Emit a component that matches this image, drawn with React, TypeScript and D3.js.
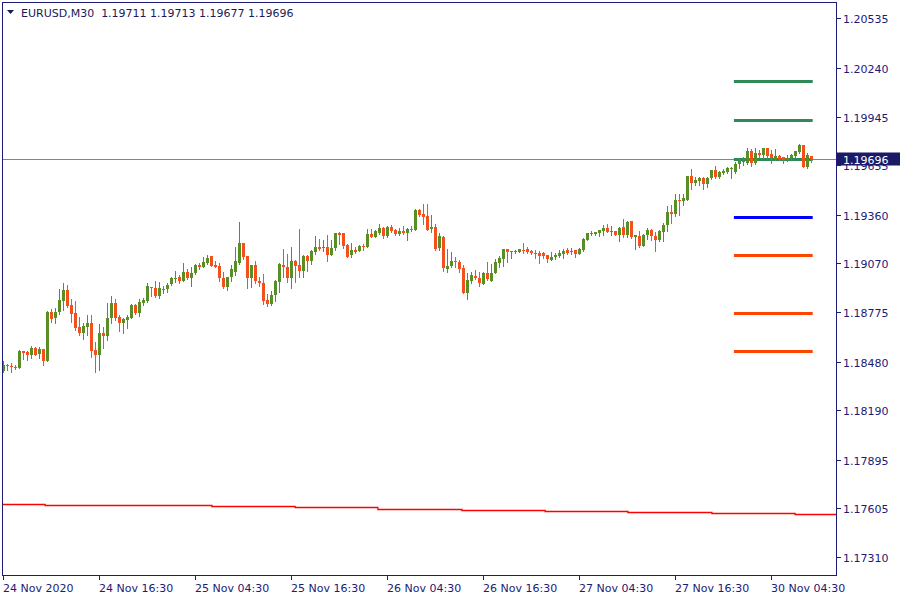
import React from "react";
import * as d3 from "d3";

const symbolTitle = "EURUSD,M30";
const lastQuote = ["1.19711", "1.19713", "1.19677", "1.19696"];
const currentPrice = 1.19696;

const opens = [
  1.18422, 1.18462, 1.18456, 1.18450, 1.18442, 1.18542, 1.18536, 1.18520, 1.18564, 1.18526,
  1.18554, 1.18484, 1.18776, 1.18740, 1.18776, 1.18844, 1.18908, 1.18818, 1.18770, 1.18686,
  1.18652, 1.18688, 1.18710, 1.18548, 1.18520, 1.18650, 1.18634, 1.18740, 1.18830, 1.18746,
  1.18712, 1.18730, 1.18742, 1.18820, 1.18772, 1.18830, 1.18844, 1.18930, 1.18924, 1.18876,
  1.18914, 1.18914, 1.18944, 1.18980, 1.18990, 1.18966, 1.19020, 1.18984, 1.19010, 1.19056,
  1.19046, 1.19070, 1.19110, 1.19056, 1.19052, 1.18984, 1.18930, 1.18986, 1.19020, 1.19070,
  1.19188, 1.19110, 1.18984, 1.19056, 1.18966, 1.18954, 1.18852, 1.18824, 1.18880, 1.18956,
  1.19056, 1.19048, 1.18984, 1.19080, 1.19056, 1.19022, 1.19110, 1.19082, 1.19134, 1.19164,
  1.19160, 1.19168, 1.19118, 1.19160, 1.19248, 1.19248, 1.19176, 1.19116, 1.19146, 1.19142,
  1.19170, 1.19164, 1.19242, 1.19226, 1.19248, 1.19278, 1.19230, 1.19284, 1.19266, 1.19244,
  1.19260, 1.19248, 1.19274, 1.19266, 1.19386, 1.19362, 1.19350, 1.19272, 1.19284, 1.19160,
  1.19224, 1.19034, 1.19050, 1.19084, 1.19078, 1.19038, 1.18890, 1.18962, 1.18996, 1.18984,
  1.18944, 1.19014, 1.18964, 1.19014, 1.19070, 1.19094, 1.19152, 1.19136, 1.19136, 1.19136,
  1.19148, 1.19152, 1.19144, 1.19132, 1.19130, 1.19130, 1.19116, 1.19088, 1.19106, 1.19112,
  1.19124, 1.19146, 1.19136, 1.19146, 1.19126, 1.19148, 1.19210, 1.19246, 1.19246, 1.19250,
  1.19260, 1.19280, 1.19257, 1.19261, 1.19241, 1.19289, 1.19241, 1.19321, 1.19225, 1.19233,
  1.19175, 1.19239, 1.19269, 1.19235, 1.19211, 1.19257, 1.19297, 1.19379, 1.19363, 1.19447,
  1.19441, 1.19449, 1.19589, 1.19549, 1.19561, 1.19581, 1.19543, 1.19577, 1.19625, 1.19585,
  1.19611, 1.19615, 1.19633, 1.19615, 1.19661, 1.19673, 1.19671, 1.19739, 1.19669, 1.19729,
  1.19717, 1.19757, 1.19721, 1.19695, 1.19709, 1.19705, 1.19685, 1.19699, 1.19711, 1.19735,
  1.19775, 1.19645, 1.19711,
];

const highs = [
  1.18482, 1.18468, 1.18474, 1.18458, 1.18552, 1.18542, 1.18546, 1.18576, 1.18570, 1.18566,
  1.18558, 1.18782, 1.18798, 1.18804, 1.18918, 1.18954, 1.18938, 1.18858, 1.18842, 1.18748,
  1.18714, 1.18762, 1.18762, 1.18598, 1.18708, 1.18686, 1.18832, 1.18872, 1.18854, 1.18758,
  1.18744, 1.18758, 1.18826, 1.18826, 1.18854, 1.18862, 1.18950, 1.18930, 1.18966, 1.18960,
  1.18936, 1.18950, 1.18990, 1.19026, 1.18998, 1.19068, 1.19036, 1.19044, 1.19062, 1.19068,
  1.19106, 1.19116, 1.19110, 1.19084, 1.19068, 1.19016, 1.18990, 1.19056, 1.19164, 1.19314,
  1.19188, 1.19110, 1.19056, 1.19080, 1.18990, 1.19008, 1.18886, 1.18906, 1.18970, 1.19068,
  1.19156, 1.19126, 1.19164, 1.19086, 1.19272, 1.19116, 1.19116, 1.19150, 1.19230, 1.19216,
  1.19206, 1.19236, 1.19206, 1.19248, 1.19256, 1.19248, 1.19182, 1.19190, 1.19166, 1.19176,
  1.19186, 1.19272, 1.19272, 1.19266, 1.19302, 1.19284, 1.19290, 1.19296, 1.19274, 1.19278,
  1.19290, 1.19280, 1.19290, 1.19396, 1.19392, 1.19422, 1.19422, 1.19356, 1.19306, 1.19252,
  1.19230, 1.19156, 1.19134, 1.19108, 1.19086, 1.19056, 1.19010, 1.19020, 1.19030, 1.19016,
  1.19016, 1.19076, 1.19062, 1.19092, 1.19110, 1.19152, 1.19152, 1.19142, 1.19150, 1.19152,
  1.19190, 1.19166, 1.19146, 1.19146, 1.19142, 1.19136, 1.19116, 1.19136, 1.19130, 1.19146,
  1.19154, 1.19160, 1.19160, 1.19146, 1.19158, 1.19220, 1.19250, 1.19262, 1.19254, 1.19268,
  1.19298, 1.19304, 1.19295, 1.19265, 1.19289, 1.19335, 1.19325, 1.19325, 1.19241, 1.19265,
  1.19245, 1.19281, 1.19275, 1.19255, 1.19269, 1.19309, 1.19409, 1.19415, 1.19485, 1.19485,
  1.19485, 1.19589, 1.19635, 1.19585, 1.19585, 1.19585, 1.19585, 1.19625, 1.19649, 1.19619,
  1.19635, 1.19645, 1.19645, 1.19675, 1.19691, 1.19705, 1.19761, 1.19751, 1.19759, 1.19745,
  1.19757, 1.19757, 1.19745, 1.19751, 1.19717, 1.19705, 1.19715, 1.19725, 1.19739, 1.19785,
  1.19775, 1.19729, 1.19713,
];

const lows = [
  1.18418, 1.18428, 1.18418, 1.18434, 1.18442, 1.18498, 1.18488, 1.18504, 1.18520, 1.18502,
  1.18458, 1.18484, 1.18718, 1.18712, 1.18766, 1.18788, 1.18808, 1.18718, 1.18668, 1.18638,
  1.18618, 1.18638, 1.18508, 1.18418, 1.18428, 1.18564, 1.18608, 1.18712, 1.18732, 1.18664,
  1.18652, 1.18684, 1.18742, 1.18766, 1.18756, 1.18822, 1.18838, 1.18876, 1.18870, 1.18860,
  1.18892, 1.18896, 1.18942, 1.18956, 1.18950, 1.18966, 1.18976, 1.18936, 1.19006, 1.19036,
  1.19046, 1.19066, 1.19052, 1.19044, 1.18966, 1.18922, 1.18912, 1.18966, 1.19002, 1.19062,
  1.19096, 1.18920, 1.18926, 1.18952, 1.18932, 1.18826, 1.18816, 1.18818, 1.18846, 1.18896,
  1.18986, 1.18956, 1.18920, 1.18956, 1.18986, 1.18986, 1.19026, 1.19062, 1.19126, 1.19150,
  1.19140, 1.19082, 1.19116, 1.19146, 1.19186, 1.19162, 1.19106, 1.19106, 1.19132, 1.19140,
  1.19150, 1.19164, 1.19226, 1.19226, 1.19244, 1.19220, 1.19226, 1.19254, 1.19238, 1.19236,
  1.19242, 1.19206, 1.19260, 1.19266, 1.19350, 1.19302, 1.19266, 1.19254, 1.19150, 1.19150,
  1.19022, 1.19016, 1.19046, 1.19046, 1.19016, 1.18890, 1.18854, 1.18952, 1.18976, 1.18932,
  1.18944, 1.18968, 1.18962, 1.19014, 1.19048, 1.19052, 1.19076, 1.19100, 1.19130, 1.19136,
  1.19130, 1.19130, 1.19126, 1.19100, 1.19070, 1.19100, 1.19076, 1.19088, 1.19096, 1.19106,
  1.19100, 1.19126, 1.19126, 1.19106, 1.19126, 1.19142, 1.19206, 1.19236, 1.19236, 1.19232,
  1.19236, 1.19256, 1.19239, 1.19237, 1.19201, 1.19225, 1.19225, 1.19221, 1.19155, 1.19165,
  1.19175, 1.19215, 1.19211, 1.19145, 1.19201, 1.19201, 1.19265, 1.19311, 1.19355, 1.19361,
  1.19415, 1.19445, 1.19511, 1.19537, 1.19535, 1.19511, 1.19525, 1.19571, 1.19581, 1.19581,
  1.19605, 1.19611, 1.19579, 1.19611, 1.19637, 1.19655, 1.19665, 1.19651, 1.19661, 1.19705,
  1.19701, 1.19701, 1.19669, 1.19689, 1.19689, 1.19671, 1.19681, 1.19691, 1.19705, 1.19731,
  1.19645, 1.19641, 1.19677,
];

const closes = [
  1.18462, 1.18452, 1.18448, 1.18442, 1.18542, 1.18530, 1.18520, 1.18564, 1.18520, 1.18554,
  1.18484, 1.18776, 1.18736, 1.18780, 1.18848, 1.18908, 1.18814, 1.18766, 1.18682, 1.18652,
  1.18692, 1.18712, 1.18544, 1.18520, 1.18650, 1.18634, 1.18740, 1.18830, 1.18742, 1.18712,
  1.18734, 1.18746, 1.18820, 1.18772, 1.18836, 1.18850, 1.18934, 1.18922, 1.18876, 1.18922,
  1.18918, 1.18942, 1.18984, 1.18984, 1.18966, 1.19020, 1.18984, 1.19014, 1.19056, 1.19046,
  1.19074, 1.19102, 1.19052, 1.19044, 1.18984, 1.18930, 1.18990, 1.19032, 1.19080, 1.19188,
  1.19106, 1.18984, 1.19056, 1.18962, 1.18950, 1.18846, 1.18824, 1.18882, 1.18966, 1.19064,
  1.19044, 1.18984, 1.19080, 1.19052, 1.19022, 1.19110, 1.19082, 1.19140, 1.19164, 1.19156,
  1.19168, 1.19118, 1.19162, 1.19248, 1.19236, 1.19172, 1.19106, 1.19146, 1.19138, 1.19170,
  1.19164, 1.19242, 1.19226, 1.19260, 1.19278, 1.19230, 1.19284, 1.19260, 1.19244, 1.19260,
  1.19248, 1.19274, 1.19266, 1.19386, 1.19356, 1.19346, 1.19266, 1.19284, 1.19156, 1.19230,
  1.19040, 1.19054, 1.19084, 1.19074, 1.19034, 1.18890, 1.18968, 1.19002, 1.18980, 1.18950,
  1.19014, 1.18974, 1.19014, 1.19074, 1.19100, 1.19152, 1.19136, 1.19140, 1.19142, 1.19152,
  1.19144, 1.19136, 1.19130, 1.19126, 1.19112, 1.19112, 1.19094, 1.19108, 1.19118, 1.19130,
  1.19142, 1.19130, 1.19142, 1.19126, 1.19152, 1.19212, 1.19250, 1.19252, 1.19254, 1.19268,
  1.19280, 1.19256, 1.19261, 1.19241, 1.19283, 1.19241, 1.19319, 1.19225, 1.19241, 1.19175,
  1.19241, 1.19269, 1.19235, 1.19211, 1.19261, 1.19301, 1.19379, 1.19363, 1.19445, 1.19441,
  1.19459, 1.19589, 1.19549, 1.19565, 1.19581, 1.19543, 1.19581, 1.19625, 1.19585, 1.19615,
  1.19623, 1.19637, 1.19639, 1.19665, 1.19679, 1.19681, 1.19739, 1.19669, 1.19729, 1.19717,
  1.19757, 1.19713, 1.19699, 1.19709, 1.19695, 1.19685, 1.19701, 1.19715, 1.19739, 1.19775,
  1.19645, 1.19715, 1.19696,
];

const priceTicks = [1.20535, 1.2024, 1.19945, 1.19655, 1.1936, 1.1907, 1.18775, 1.1848, 1.1819, 1.17895, 1.17605, 1.1731];

const timeLabels = [
  "24 Nov 2020", "24 Nov 16:30", "25 Nov 04:30", "25 Nov 16:30", "26 Nov 04:30",
  "26 Nov 16:30", "27 Nov 04:30", "27 Nov 16:30", "30 Nov 04:30",
];
const timeLabelBars = [0, 24, 48, 72, 96, 120, 144, 168, 192];

const levelNames = ["R3", "R2", "R1", "PP", "S1", "S2", "S3"];
const levelPrices = [1.20158, 1.19925, 1.19695, 1.19349, 1.19121, 1.18772, 1.18547];
const levelFromBar = 182.6;
const levelToBar = 202.3;

const bandBreaks = [-0.3, 10.4, 31.1, 52.1, 72.9, 93.6, 114.6, 135.4, 156.1, 177.1, 197.9, 208.3];
const bandValues = [1.17625, 1.17619, 1.17614, 1.17608, 1.17602, 1.17596, 1.1759, 1.17584, 1.17578, 1.17572, 1.17566];

const FONT = "'DejaVu Sans', Verdana, sans-serif";
const NAVY = "#1b1b78";
const BULL = "#578f25";
const BEAR = "#f4501e";
const levelColor = (name: string) =>
  name.startsWith("R") ? "#2e8b57" : name === "PP" ? "#0000ff" : "#ff4500";

export default function App() {
  const W = 900;
  const H = 600;
  const plot = { left: 2.5, top: 2.5, right: 836.5, bottom: 575.5 };

  const x = d3.scaleLinear().domain([0, 202]).range([3.5, 811.5]);
  const y = d3.scaleLinear().domain([1.1731, 1.20535]).range([557.3, 18.3]);
  const ry = (v: number) => Math.round(y(v)) + 0.5;

  const bandPts: [number, number][] = bandBreaks.map((b, k) => [
    x(b),
    y(bandValues[Math.min(k, bandValues.length - 1)]),
  ]);
  const bandPath = d3
    .line<[number, number]>()
    .x((d) => d[0])
    .y((d) => Math.round(d[1]) - 0.5)
    .curve(d3.curveStepAfter)(bandPts);

  const cpY = ry(currentPrice);

  return (
    <svg
      width={W}
      height={H}
      style={{ position: "absolute", left: 0, top: 0, display: "block", background: "#fff" }}
      fontFamily={FONT}
    >
      <rect x={0} y={0} width={W} height={H} fill="#fff" />
      <defs>
        <clipPath id="plotclip">
          <rect x={plot.left + 0.5} y={plot.top + 0.5} width={plot.right - plot.left - 1} height={plot.bottom - plot.top - 1} />
        </clipPath>
      </defs>

      <g clipPath="url(#plotclip)">
        <line x1={plot.left} x2={plot.right} y1={cpY} y2={cpY} stroke="#778899" strokeWidth={1} shapeRendering="crispEdges" />
        <path d={bandPath || ""} fill="none" stroke="#ff0000" strokeWidth={1.3} />
        {levelPrices.map((p, k) => (
          <line
            key={"lv" + k}
            x1={x(levelFromBar)}
            x2={x(levelToBar)}
            y1={Math.round(y(p)) + 0.5}
            y2={Math.round(y(p)) + 0.5}
            stroke={levelColor(levelNames[k])}
            strokeWidth={3}
          />
        ))}
        {opens.map((o, i) => {
          const c = closes[i];
          const hi = Math.max(highs[i], o, c);
          const lo = Math.min(lows[i], o, c);
          const col = c >= o ? BULL : BEAR;
          const cx = x(i);
          const yTop = Math.round(y(Math.max(o, c)));
          const yBot = Math.round(y(Math.min(o, c)));
          return (
            <g key={"c" + i} shapeRendering="crispEdges">
              <line x1={cx} x2={cx} y1={Math.round(y(hi))} y2={Math.round(y(lo)) + 1} stroke={col} strokeWidth={1} />
              <rect x={cx - 1.5} y={yTop} width={3} height={Math.max(1, yBot - yTop)} fill={col} />
            </g>
          );
        })}
      </g>

      <rect
        x={plot.left}
        y={plot.top}
        width={plot.right - plot.left}
        height={plot.bottom - plot.top}
        fill="none"
        stroke={NAVY}
        strokeWidth={1}
        shapeRendering="crispEdges"
      />

      {priceTicks.map((t, k) => {
        const ty = ry(t);
        return (
          <g key={"pt" + k}>
            <line x1={plot.right} x2={plot.right + 4} y1={ty} y2={ty} stroke={NAVY} shapeRendering="crispEdges" />
            <text x={843} y={ty + 4} fontSize={11} fill={NAVY}>
              {t.toFixed(5)}
            </text>
          </g>
        );
      })}
      <rect x={837} y={cpY - 7} width={63} height={13} fill="#1a1a66" />
      <text x={843} y={cpY + 4} fontSize={11} fill="#ffffff">
        {currentPrice.toFixed(5)}
      </text>

      {timeLabels.map((lab, k) => {
        const tx = Math.round(x(timeLabelBars[k]) - 0.5) + 0.5;
        return (
          <g key={"tl" + k}>
            <line x1={tx} x2={tx} y1={plot.bottom} y2={plot.bottom + 4} stroke={NAVY} shapeRendering="crispEdges" />
            <text x={tx - 0.5} y={592} fontSize={11} fill={NAVY}>
              {lab}
            </text>
          </g>
        );
      })}

      <path d="M7,10 L14,10 L10.5,14 Z" fill="#1a1a5a" />
      <text x={21} y={17} fontSize={11} fill="#1a1a5a" style={{ whiteSpace: "pre" }}>
        {symbolTitle + "  " + lastQuote.join(" ")}
      </text>
    </svg>
  );
}
